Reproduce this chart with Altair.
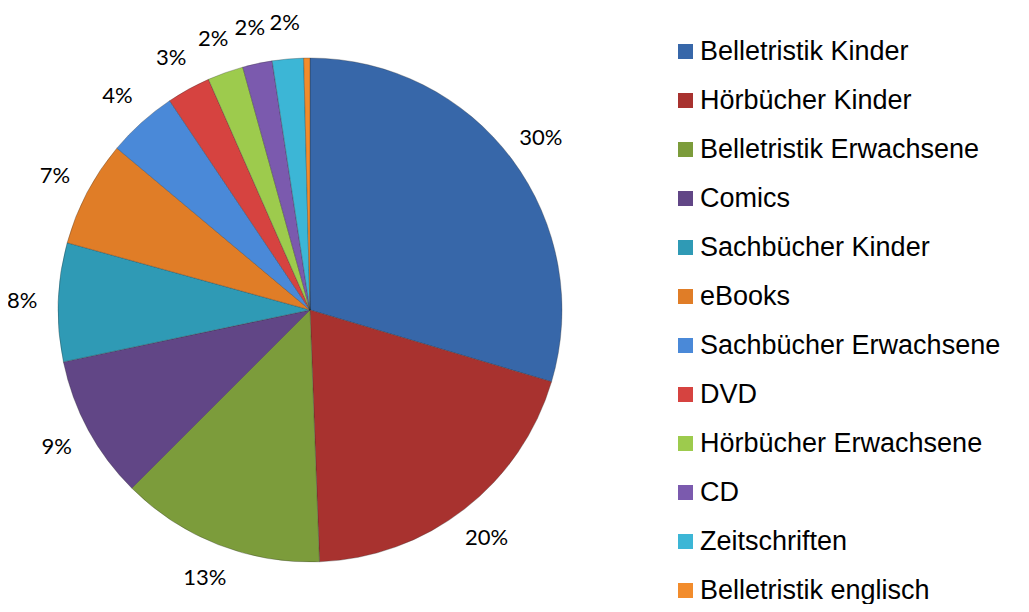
import altair as alt
import pandas as pd

categories = [
    "Belletristik Kinder", "Hörbücher Kinder", "Belletristik Erwachsene", "Comics",
    "Sachbücher Kinder", "eBooks", "Sachbücher Erwachsene", "DVD",
    "Hörbücher Erwachsene", "CD", "Zeitschriften", "Belletristik englisch",
]
shares = [29.6, 19.8, 13.1, 9.2, 7.6, 6.8, 4.5, 2.8, 2.3, 1.9, 2.0, 0.4]
labels = ["30%", "20%", "13%", "9%", "8%", "7%", "4%", "3%", "2%", "2%", "2%", ""]
colors = [
    "#3767A9", "#A8322F", "#7C9C3B", "#614686", "#2F9AB5", "#E07D27",
    "#4A89D8", "#D64340", "#9DCB4D", "#7B5AAE", "#3CB6D6", "#F28C2C",
]

df = pd.DataFrame({
    "category": categories,
    "share": shares,
    "label": labels,
    "order": list(range(len(categories))),
})

cx, cy = 302, 302

base = alt.Chart(df).encode(
    theta=alt.Theta("share:Q", stack=True),
    order=alt.Order("order:Q"),
    x=alt.value(cx),
    y=alt.value(cy),
)

pie = base.mark_arc(outerRadius=252, stroke="#2a2a2a", strokeWidth=0.6, strokeOpacity=0.5).encode(
    color=alt.Color(
        "category:N",
        scale=alt.Scale(domain=categories, range=colors),
        sort=categories,
        legend=alt.Legend(
            title=None,
            orient="none",
            legendX=664,
            legendY=30,
            symbolType="square",
            symbolSize=225,
            symbolStrokeWidth=0,
            labelFont="Liberation Sans",
            labelFontSize=27,
            labelColor="#000000",
            labelLimit=400,
            labelOffset=1,
            rowPadding=21,
            padding=0,
        ),
    )
)

text = base.mark_text(radius=288, font="Lato", fontSize=22, color="#000000").encode(
    text="label:N"
)

chart = (pie + text).properties(
    width=1013,
    height=596,
    autosize=alt.AutoSizeParams(type="none"),
    padding=0,
).configure_view(stroke=None)

chart.save("out.html", embed_options={"renderer": "svg", "actions": False})
